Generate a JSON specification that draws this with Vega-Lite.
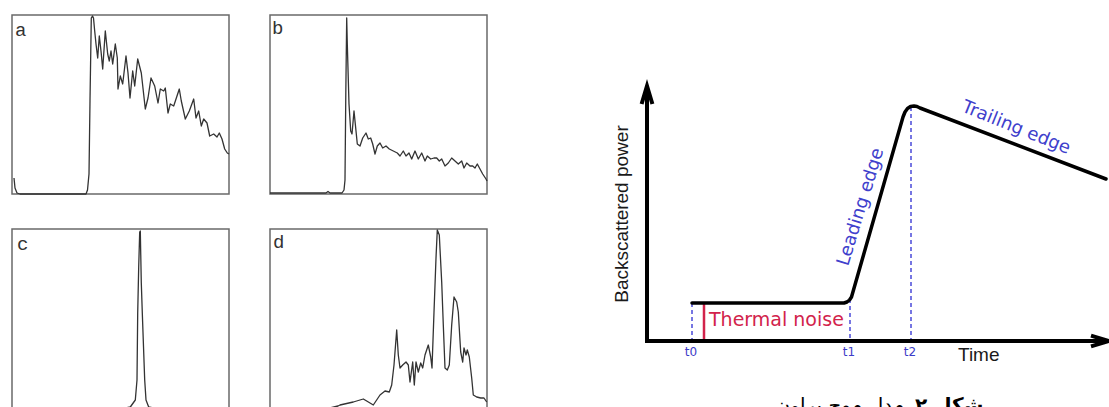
{
  "$schema": "https://vega.github.io/schema/vega-lite/v6.json",
  "background": "white",
  "padding": {"left": 10, "top": 14, "right": 0, "bottom": 0},
  "config": {"view": {"stroke": "#6a6a6a", "strokeWidth": 1.5}},
  "datasets": {
    "a": [{"x":2,"y":16},{"x":3,"y":6},{"x":5,"y":1},{"x":8,"y":0},{"x":74,"y":0},{"x":75.5,"y":4},{"x":77,"y":20},{"x":78,"y":93},{"x":79.3,"y":176},{"x":80.5,"y":178},{"x":81.5,"y":176},{"x":82.7,"y":163},{"x":84,"y":150},{"x":85.7,"y":136},{"x":87.3,"y":158},{"x":89,"y":143},{"x":90.7,"y":125},{"x":93.3,"y":163},{"x":95.7,"y":140},{"x":97.3,"y":133},{"x":99,"y":143},{"x":100.7,"y":130},{"x":103.3,"y":150},{"x":105.3,"y":136},{"x":106,"y":105},{"x":108.3,"y":118},{"x":110.7,"y":110},{"x":114,"y":138},{"x":116,"y":121},{"x":118,"y":96},{"x":120.7,"y":123},{"x":122.7,"y":108},{"x":125.7,"y":135},{"x":129.3,"y":121},{"x":133.3,"y":85},{"x":136,"y":96},{"x":139,"y":116},{"x":142.7,"y":108},{"x":146,"y":91},{"x":148.3,"y":105},{"x":151.7,"y":103},{"x":153.3,"y":106},{"x":156,"y":81},{"x":158.3,"y":90},{"x":161.7,"y":88},{"x":165,"y":98},{"x":167.3,"y":105},{"x":169.3,"y":93},{"x":173.3,"y":75},{"x":177.3,"y":83},{"x":181.7,"y":95},{"x":184,"y":76},{"x":186.7,"y":83},{"x":189.3,"y":68},{"x":191.7,"y":75},{"x":195,"y":71},{"x":197.7,"y":58},{"x":201.7,"y":60},{"x":205,"y":57},{"x":207.3,"y":61},{"x":210,"y":55},{"x":212.7,"y":45},{"x":215.3,"y":41},{"x":217,"y":40}],
    "b": [{"x":0,"y":1},{"x":56,"y":1},{"x":58,"y":2.5},{"x":60,"y":1},{"x":72,"y":1},{"x":74,"y":4},{"x":75,"y":14},{"x":75.8,"y":100},{"x":76.7,"y":176},{"x":77.3,"y":150},{"x":79,"y":90},{"x":80.7,"y":63},{"x":82,"y":60},{"x":84,"y":83},{"x":85.3,"y":70},{"x":87.3,"y":50},{"x":90,"y":48},{"x":92.7,"y":56},{"x":96,"y":61},{"x":98.3,"y":55},{"x":100.7,"y":56},{"x":102.7,"y":50},{"x":105,"y":40},{"x":107.3,"y":48},{"x":110,"y":51},{"x":112.7,"y":46},{"x":116,"y":48},{"x":119.3,"y":45},{"x":123.3,"y":43},{"x":127.3,"y":41},{"x":130,"y":38},{"x":133.3,"y":43},{"x":136,"y":38},{"x":139,"y":41},{"x":141.7,"y":35},{"x":145,"y":43},{"x":148.3,"y":35},{"x":151.7,"y":41},{"x":155,"y":33},{"x":157.3,"y":38},{"x":160.7,"y":35},{"x":164,"y":36},{"x":166.7,"y":36},{"x":169.3,"y":33},{"x":171.7,"y":35},{"x":175,"y":28},{"x":178.3,"y":31},{"x":181.7,"y":36},{"x":185,"y":33},{"x":188.3,"y":30},{"x":191.7,"y":33},{"x":194,"y":26},{"x":196.7,"y":31},{"x":200,"y":28},{"x":202.7,"y":28},{"x":205,"y":26},{"x":207.3,"y":30},{"x":210,"y":25},{"x":212.7,"y":20},{"x":216,"y":15},{"x":217,"y":13}],
    "c": [{"x":0,"y":0},{"x":114,"y":0},{"x":118.3,"y":1},{"x":123.3,"y":8},{"x":125,"y":28},{"x":125.7,"y":95},{"x":126.7,"y":141},{"x":127.7,"y":176},{"x":128.3,"y":177},{"x":129.3,"y":125},{"x":130.3,"y":95},{"x":132.7,"y":28},{"x":134,"y":8},{"x":136.7,"y":1},{"x":141,"y":0},{"x":217,"y":0}],
    "d": [{"x":0,"y":0},{"x":60,"y":0},{"x":68,"y":2},{"x":70,"y":3},{"x":83.3,"y":6},{"x":93.3,"y":9},{"x":96.7,"y":7},{"x":103.3,"y":3},{"x":110,"y":13},{"x":115,"y":17},{"x":119.3,"y":16},{"x":121.7,"y":23},{"x":124,"y":43},{"x":126.7,"y":78},{"x":128.3,"y":53},{"x":130,"y":40},{"x":132.7,"y":43},{"x":136,"y":46},{"x":138.3,"y":43},{"x":140,"y":26},{"x":142.7,"y":46},{"x":144.3,"y":23},{"x":146,"y":46},{"x":148.3,"y":36},{"x":150.7,"y":45},{"x":152.7,"y":40},{"x":155,"y":53},{"x":158.3,"y":63},{"x":160.7,"y":51},{"x":162,"y":40},{"x":164,"y":96},{"x":166,"y":150},{"x":167.3,"y":178},{"x":169.3,"y":173},{"x":171.7,"y":126},{"x":173.3,"y":83},{"x":175,"y":40},{"x":177.3,"y":38},{"x":179.3,"y":43},{"x":181.7,"y":83},{"x":184,"y":111},{"x":186.7,"y":106},{"x":188.3,"y":96},{"x":190.7,"y":56},{"x":192.7,"y":46},{"x":194,"y":60},{"x":196,"y":53},{"x":197.3,"y":58},{"x":199.3,"y":51},{"x":201.7,"y":30},{"x":203.3,"y":13},{"x":206.7,"y":11},{"x":210.7,"y":10},{"x":214,"y":10},{"x":216.7,"y":6}],
    "brown": [{"x":91,"y":105},{"x":243,"y":105},{"x":246,"y":106},{"x":248.5,"y":108},{"x":250.5,"y":111},{"x":302,"y":291},{"x":304,"y":296},{"x":306.5,"y":299.5},{"x":309.5,"y":301.5},{"x":313,"y":302},{"x":316,"y":301.5},{"x":319,"y":300},{"x":505,"y":229}],
    "axes": [{"x":46,"y":67,"x2":46,"y2":318},{"x":46,"y":67,"x2":504,"y2":67}],
    "guides": [{"x":91,"y":105,"x2":91,"y2":67},{"x":249,"y":109,"x2":249,"y2":67},{"x":310,"y":301,"x2":310,"y2":67}],
    "noise": [{"x":103,"y":105,"x2":103,"y2":67}]
  },
  "spacing": 112,
  "hconcat": [
    {
      "spacing": 32,
      "vconcat": [
        {
          "spacing": 37,
          "hconcat": [
            {
              "width": 217, "height": 179,
              "layer": [
                {"data": {"name": "a"}, "mark": {"type": "line", "color": "#333333", "strokeWidth": 1.3, "strokeJoin": "round"},
                 "encoding": {"x": {"field": "x", "type": "quantitative", "scale": {"domain": [0, 217], "nice": false}, "axis": null},
                              "y": {"field": "y", "type": "quantitative", "scale": {"domain": [0, 179], "nice": false}, "axis": null}}},
                {"data": {"values": [{"label": "a", "x": 3, "y": 158}]}, "mark": {"type": "text", "font": "Liberation Mono", "fontSize": 19, "color": "#333333", "align": "left", "baseline": "alphabetic"},
                 "encoding": {"x": {"field": "x", "type": "quantitative", "scale": {"domain": [0, 217], "nice": false}, "axis": null},
                              "y": {"field": "y", "type": "quantitative", "scale": {"domain": [0, 179], "nice": false}, "axis": null},
                              "text": {"field": "label"}}}
              ]
            },
            {
              "width": 217, "height": 179,
              "layer": [
                {"data": {"name": "b"}, "mark": {"type": "line", "color": "#333333", "strokeWidth": 1.3, "strokeJoin": "round"},
                 "encoding": {"x": {"field": "x", "type": "quantitative", "scale": {"domain": [0, 217], "nice": false}, "axis": null},
                              "y": {"field": "y", "type": "quantitative", "scale": {"domain": [0, 179], "nice": false}, "axis": null}}},
                {"data": {"values": [{"label": "b", "x": 2, "y": 160}]}, "mark": {"type": "text", "font": "Liberation Mono", "fontSize": 19, "color": "#333333", "align": "left", "baseline": "alphabetic"},
                 "encoding": {"x": {"field": "x", "type": "quantitative", "scale": {"domain": [0, 217], "nice": false}, "axis": null},
                              "y": {"field": "y", "type": "quantitative", "scale": {"domain": [0, 179], "nice": false}, "axis": null},
                              "text": {"field": "label"}}}
              ]
            }
          ]
        },
        {
          "spacing": 37,
          "hconcat": [
            {
              "width": 217, "height": 179,
              "layer": [
                {"data": {"name": "c"}, "mark": {"type": "line", "color": "#333333", "strokeWidth": 1.3, "strokeJoin": "round"},
                 "encoding": {"x": {"field": "x", "type": "quantitative", "scale": {"domain": [0, 217], "nice": false}, "axis": null},
                              "y": {"field": "y", "type": "quantitative", "scale": {"domain": [0, 179], "nice": false}, "axis": null}}},
                {"data": {"values": [{"label": "c", "x": 5, "y": 158}]}, "mark": {"type": "text", "font": "Liberation Mono", "fontSize": 19, "color": "#333333", "align": "left", "baseline": "alphabetic"},
                 "encoding": {"x": {"field": "x", "type": "quantitative", "scale": {"domain": [0, 217], "nice": false}, "axis": null},
                              "y": {"field": "y", "type": "quantitative", "scale": {"domain": [0, 179], "nice": false}, "axis": null},
                              "text": {"field": "label"}}}
              ]
            },
            {
              "width": 217, "height": 179,
              "layer": [
                {"data": {"name": "d"}, "mark": {"type": "line", "color": "#333333", "strokeWidth": 1.3, "strokeJoin": "round"},
                 "encoding": {"x": {"field": "x", "type": "quantitative", "scale": {"domain": [0, 217], "nice": false}, "axis": null},
                              "y": {"field": "y", "type": "quantitative", "scale": {"domain": [0, 179], "nice": false}, "axis": null}}},
                {"data": {"values": [{"label": "d", "x": 3, "y": 160}]}, "mark": {"type": "text", "font": "Liberation Mono", "fontSize": 19, "color": "#333333", "align": "left", "baseline": "alphabetic"},
                 "encoding": {"x": {"field": "x", "type": "quantitative", "scale": {"domain": [0, 217], "nice": false}, "axis": null},
                              "y": {"field": "y", "type": "quantitative", "scale": {"domain": [0, 179], "nice": false}, "axis": null},
                              "text": {"field": "label"}}}
              ]
            }
          ]
        }
      ]
    },
    {
      "width": 509, "height": 393,
      "view": {"stroke": null},
      "encoding": {
        "x": {"field": "x", "type": "quantitative", "scale": {"domain": [0, 509], "nice": false}, "axis": null},
        "y": {"field": "y", "type": "quantitative", "scale": {"domain": [0, 393], "nice": false}, "axis": null}
      },
      "layer": [
        {"data": {"name": "guides"}, "mark": {"type": "rule", "color": "#3d3dd6", "strokeWidth": 1.4, "strokeDash": [4, 3]},
         "encoding": {"x2": {"field": "x2"}, "y2": {"field": "y2"}}},
        {"data": {"name": "noise"}, "mark": {"type": "rule", "color": "#d2234b", "strokeWidth": 2.5},
         "encoding": {"x2": {"field": "x2"}, "y2": {"field": "y2"}}},
        {"data": {"name": "brown"}, "mark": {"type": "line", "color": "#000000", "strokeWidth": 3.5, "strokeJoin": "round", "strokeCap": "round"}, "encoding": {}},
        {"data": {"name": "axes"}, "mark": {"type": "rule", "color": "#000000", "strokeWidth": 4, "strokeCap": "square"},
         "encoding": {"x2": {"field": "x2"}, "y2": {"field": "y2"}}},
        {"data": {"values": [{"x": 46, "y": 313}]}, "mark": {"type": "point", "shape": "M-0.6,1L0,-1L0.6,1", "size": 324, "filled": false, "color": "#000000", "opacity": 1, "strokeWidth": 4, "strokeJoin": "miter", "angle": 0}, "encoding": {}},
        {"data": {"values": [{"x": 499, "y": 67}]}, "mark": {"type": "point", "shape": "M-0.6,1L0,-1L0.6,1", "size": 324, "filled": false, "color": "#000000", "opacity": 1, "strokeWidth": 4, "strokeJoin": "miter", "angle": 90}, "encoding": {}},
        {"data": {"values": [{"label": "Backscattered power", "x": 27, "y": 194}]}, "mark": {"type": "text", "font": "Liberation Sans", "fontSize": 19, "color": "#1a1a1a", "angle": -90, "align": "center", "baseline": "alphabetic"}, "encoding": {"text": {"field": "label"}}},
        {"data": {"values": [{"label": "Time", "x": 357, "y": 47}]}, "mark": {"type": "text", "font": "Liberation Sans", "fontSize": 19, "color": "#1a1a1a", "align": "left", "baseline": "alphabetic"}, "encoding": {"text": {"field": "label"}}},
        {"data": {"values": [{"label": "t0", "x": 90, "y": 52}, {"label": "t1", "x": 248, "y": 52}, {"label": "t2", "x": 309, "y": 52}]}, "mark": {"type": "text", "font": "DejaVu Sans", "fontSize": 12, "color": "#3c3cc8", "align": "center", "baseline": "alphabetic"}, "encoding": {"text": {"field": "label"}}},
        {"data": {"values": [{"label": "Thermal noise", "x": 108, "y": 82}]}, "mark": {"type": "text", "font": "DejaVu Sans", "fontSize": 19, "color": "#d2234b", "align": "left", "baseline": "alphabetic"}, "encoding": {"text": {"field": "label"}}},
        {"data": {"values": [{"label": "Leading edge", "x": 260, "y": 201}]}, "mark": {"type": "text", "font": "DejaVu Sans", "fontSize": 18, "color": "#4040cc", "angle": -73, "align": "center", "baseline": "middle"}, "encoding": {"text": {"field": "label"}}},
        {"data": {"values": [{"label": "Trailing edge", "x": 415, "y": 280}]}, "mark": {"type": "text", "font": "DejaVu Sans", "fontSize": 18, "color": "#4040cc", "angle": 22, "align": "center", "baseline": "middle"}, "encoding": {"text": {"field": "label"}}},
        {"data": {"values": [{"label": "شکل ۲.", "x": 352, "y": -4}]}, "mark": {"type": "text", "font": "DejaVu Sans", "fontSize": 20, "fontWeight": "bold", "color": "#000000", "align": "center", "baseline": "alphabetic"}, "encoding": {"text": {"field": "label"}}},
        {"data": {"values": [{"label": "مدل موج براون", "x": 239, "y": -4}]}, "mark": {"type": "text", "font": "DejaVu Sans", "fontSize": 20, "color": "#000000", "align": "center", "baseline": "alphabetic"}, "encoding": {"text": {"field": "label"}}}
      ]
    }
  ]
}
